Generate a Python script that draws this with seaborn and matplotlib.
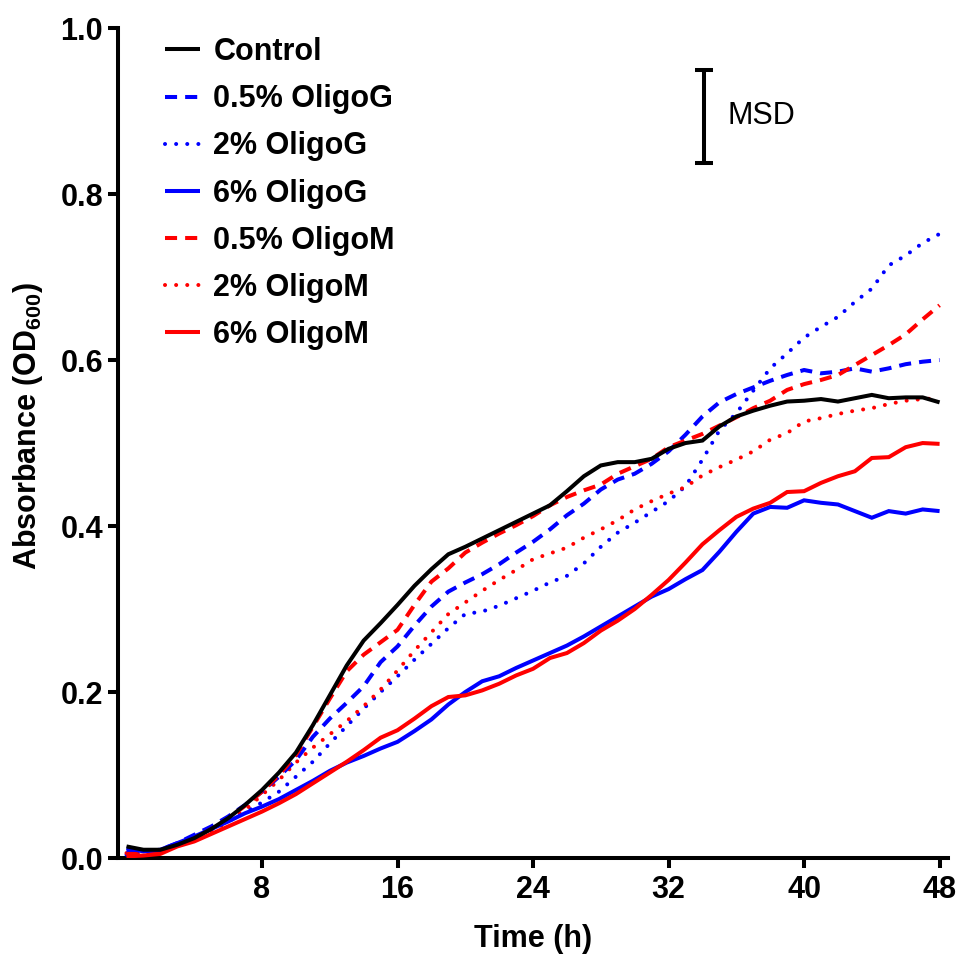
import numpy as np
import pandas as pd
import matplotlib
matplotlib.use("Agg")
import matplotlib.pyplot as plt
import seaborn as sns

time_h = list(range(49))

control = [0.014, 0.010, 0.010, 0.016, 0.024, 0.035, 0.048, 0.064, 0.082, 0.103,
           0.127, 0.160, 0.196, 0.232, 0.262, 0.283, 0.305, 0.328, 0.348, 0.366,
           0.375, 0.385, 0.395, 0.405, 0.415, 0.425, 0.442, 0.460, 0.473, 0.477,
           0.477, 0.481, 0.493, 0.500, 0.503, 0.520, 0.532, 0.539, 0.545, 0.550,
           0.551, 0.553, 0.550, 0.554, 0.558, 0.554, 0.555, 0.555, 0.549]
g05 = [0.008, 0.008, 0.010, 0.018, 0.028, 0.038, 0.050, 0.064, 0.080, 0.098,
       0.118, 0.146, 0.168, 0.187, 0.207, 0.236, 0.255, 0.280, 0.303, 0.321,
       0.332, 0.342, 0.354, 0.368, 0.381, 0.396, 0.413, 0.427, 0.444, 0.456,
       0.463, 0.475, 0.490, 0.510, 0.532, 0.549, 0.559, 0.567, 0.575, 0.582,
       0.588, 0.584, 0.586, 0.590, 0.586, 0.590, 0.595, 0.598, 0.600]
g2 = [0.004, 0.006, 0.010, 0.016, 0.024, 0.033, 0.044, 0.055, 0.067, 0.080,
      0.098, 0.116, 0.138, 0.159, 0.180, 0.200, 0.219, 0.239, 0.258, 0.277,
      0.294, 0.297, 0.304, 0.313, 0.322, 0.332, 0.340, 0.355, 0.375, 0.392,
      0.404, 0.417, 0.430, 0.448, 0.480, 0.515, 0.536, 0.563, 0.590, 0.608,
      0.627, 0.640, 0.652, 0.670, 0.686, 0.714, 0.726, 0.741, 0.752]
g6 = [0.012, 0.008, 0.010, 0.018, 0.026, 0.035, 0.044, 0.054, 0.062, 0.071,
      0.082, 0.093, 0.105, 0.115, 0.123, 0.132, 0.140, 0.153, 0.167, 0.185,
      0.200, 0.213, 0.219, 0.229, 0.238, 0.247, 0.256, 0.267, 0.279, 0.291,
      0.303, 0.315, 0.324, 0.336, 0.347, 0.369, 0.393, 0.415, 0.423, 0.422,
      0.431, 0.428, 0.426, 0.418, 0.410, 0.418, 0.415, 0.420, 0.418]
m05 = [0.005, 0.005, 0.008, 0.015, 0.025, 0.035, 0.047, 0.063, 0.080, 0.100,
       0.124, 0.158, 0.192, 0.225, 0.245, 0.260, 0.275, 0.305, 0.333, 0.349,
       0.368, 0.380, 0.391, 0.401, 0.412, 0.425, 0.435, 0.443, 0.450, 0.463,
       0.472, 0.481, 0.495, 0.503, 0.511, 0.521, 0.531, 0.542, 0.551, 0.564,
       0.571, 0.576, 0.582, 0.594, 0.606, 0.618, 0.631, 0.649, 0.666]
m2 = [0.006, 0.006, 0.008, 0.014, 0.022, 0.032, 0.044, 0.058, 0.076, 0.094,
      0.115, 0.133, 0.149, 0.165, 0.183, 0.203, 0.226, 0.250, 0.272, 0.294,
      0.308, 0.322, 0.335, 0.347, 0.360, 0.367, 0.374, 0.386, 0.396, 0.407,
      0.420, 0.430, 0.439, 0.447, 0.461, 0.471, 0.480, 0.490, 0.504, 0.512,
      0.526, 0.530, 0.535, 0.539, 0.542, 0.547, 0.551, 0.553, 0.554]
m6 = [0.002, 0.003, 0.005, 0.014, 0.020, 0.029, 0.038, 0.047, 0.056, 0.066,
      0.077, 0.090, 0.103, 0.116, 0.130, 0.145, 0.154, 0.168, 0.183, 0.194,
      0.196, 0.202, 0.210, 0.220, 0.228, 0.241, 0.247, 0.259, 0.274, 0.286,
      0.300, 0.317, 0.335, 0.356, 0.378, 0.395, 0.411, 0.421, 0.428, 0.441,
      0.442, 0.452, 0.460, 0.466, 0.482, 0.483, 0.495, 0.500, 0.499]

labels = ["Control", "0.5% OligoG", "2% OligoG", "6% OligoG",
          "0.5% OligoM", "2% OligoM", "6% OligoM"]
series = [control, g05, g2, g6, m05, m2, m6]

msd_x = 34.1
msd_y = 0.894
msd_half = 0.056

BLUE = "#0000FF"
RED = "#FF0000"
LW = 2.9
dash = (0, (3.0, 2.0))
dot = (0, (0.01, 2.75))
styles = [
    ("black", "-", "butt", 20),
    (BLUE, dash, "butt", 12),
    (BLUE, dot, "round", 11),
    (BLUE, "-", "butt", 13),
    (RED, dash, "butt", 12),
    (RED, dot, "round", 11),
    (RED, "-", "butt", 14),
]

sns.set_theme(style="ticks")
plt.rcParams["font.family"] = ["Liberation Sans", "DejaVu Sans"]
plt.rcParams["mathtext.fontset"] = "custom"
plt.rcParams["mathtext.rm"] = "Liberation Sans:bold"
plt.rcParams["mathtext.bf"] = "Liberation Sans:bold"

fig = plt.figure(figsize=(9.62, 9.57), dpi=100)
ax = fig.add_axes([0.1227, 0.1034, 0.8628, 0.8673])

for lab, vals, (c, ls, cap, z) in zip(labels, series, styles):
    df = pd.DataFrame({"t": time_h, "v": vals})
    sns.lineplot(data=df, x="t", y="v", ax=ax, color=c, linestyle=ls,
                 linewidth=LW, label=lab, zorder=z,
                 dash_capstyle=cap, solid_capstyle="butt",
                 solid_joinstyle="miter")

ax.errorbar([msd_x], [msd_y], yerr=[msd_half], fmt="none", ecolor="black",
            elinewidth=2.9, capsize=6.2, capthick=2.9)
ax.text(msd_x + 1.4, msd_y, "MSD", fontsize=22, va="center", ha="left",
        color="black")

ax.set_xlim(-0.5, 48.5)
ax.set_ylim(0, 1.0)
ax.set_xticks([8, 16, 24, 32, 40, 48])
ax.set_yticks([0.0, 0.2, 0.4, 0.6, 0.8, 1.0])
ax.set_yticklabels(["0.0", "0.2", "0.4", "0.6", "0.8", "1.0"])
for lbl in ax.get_xticklabels() + ax.get_yticklabels():
    lbl.set_fontweight("bold")
    lbl.set_fontsize(22)
ax.tick_params(axis="both", direction="out", length=7.2, width=2.9,
               color="black", labelcolor="black")
ax.tick_params(axis="y", pad=3.5)
ax.tick_params(axis="x", pad=5)
for s in ["top", "right"]:
    ax.spines[s].set_visible(False)
for s in ["left", "bottom"]:
    ax.spines[s].set_linewidth(2.9)
    ax.spines[s].set_color("black")

ax.set_xlabel("Time (h)", fontsize=22, fontweight="bold", labelpad=14,
              color="black")
ax.set_ylabel(r"Absorbance (OD$_{600}$)", fontsize=22, fontweight="bold",
              color="black")
ax.yaxis.set_label_coords(-0.088, 0.52)

leg = ax.legend(loc="upper left", bbox_to_anchor=(0.0566, 0.989),
                frameon=False, borderaxespad=0, borderpad=0,
                handlelength=1.15, handletextpad=0.43, labelspacing=0.56,
                prop={"weight": "bold", "size": 22})
for t in leg.get_texts():
    t.set_color("black")

fig.savefig("out.png", dpi=100)
